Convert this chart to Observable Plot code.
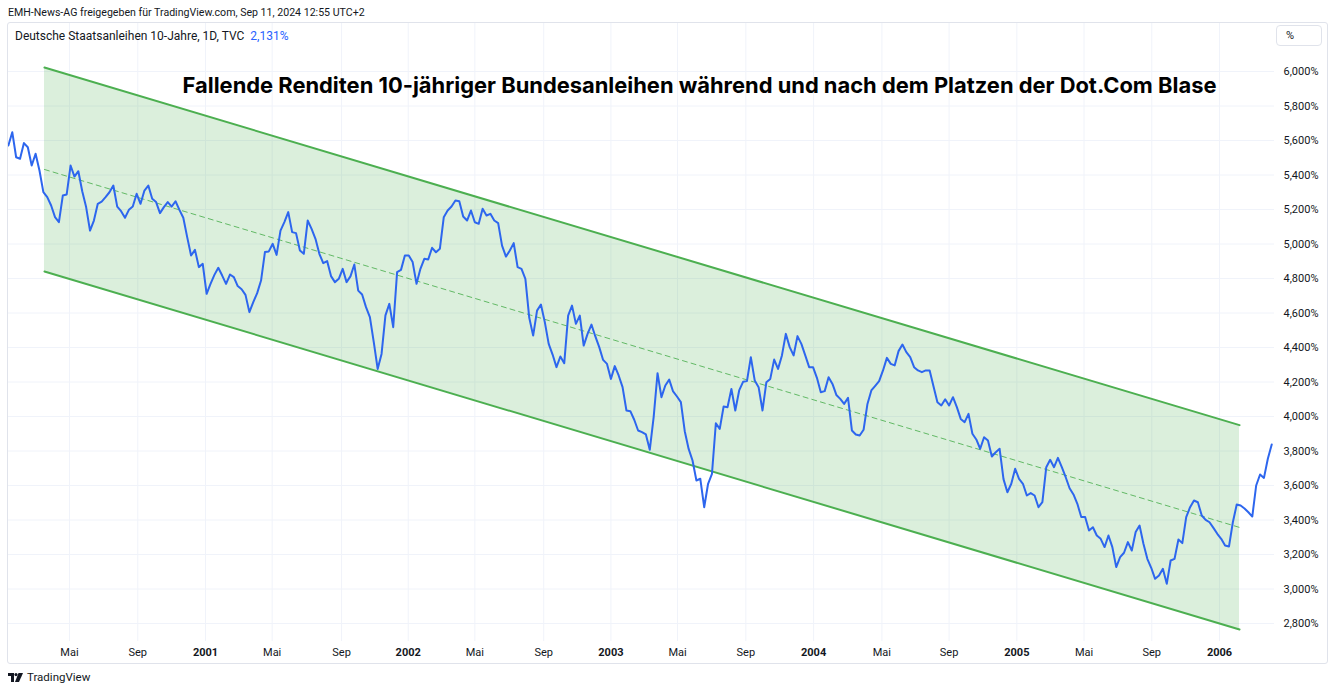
<!DOCTYPE html>
<html><head><meta charset="utf-8">
<script src="https://cdn.jsdelivr.net/npm/d3@7"></script>
<script src="https://cdn.jsdelivr.net/npm/@observablehq/plot@0.6"></script>
<style>
body{margin:0;background:#fff;font-family:Roboto,"Liberation Sans",sans-serif;color:#131722;}
#wrap{position:relative;width:1332px;height:692px;overflow:hidden;background:#fff}
#hdr{position:absolute;left:8px;top:6px;font-size:10.6px;white-space:nowrap;color:#131722}
#pane{position:absolute;left:0;top:22px;width:1332px;height:641px;}
#border{position:absolute;left:7px;top:22px;width:1321px;height:642px;border:1px solid #e0e3eb;box-sizing:border-box;pointer-events:none;border-radius:3px}
#legend{position:absolute;left:15px;top:29px;font-size:12px;white-space:nowrap;color:#131722}
#legend .v{color:#2962ff;margin-left:6px}
#title{position:absolute;left:0;width:1399px;top:72px;text-align:center;font:700 21.9px Inter,"Liberation Sans",sans-serif;color:#000;white-space:nowrap}
#pct{position:absolute;left:1276px;top:25px;width:46px;height:21px;border:1px solid #e0e3eb;box-sizing:border-box;border-radius:4px;font-size:11px;line-height:19px;padding-left:9px;background:#fff}
#foot{position:absolute;left:8px;top:670px;font-size:11.5px;white-space:nowrap;color:#131722;display:flex;align-items:center}
#foot svg{margin-right:4px}
</style></head>
<body>
<div id="wrap">
  <div id="hdr">EMH-News-AG freigegeben für TradingView.com, Sep 11, 2024 12:55 UTC+2</div>
  <div id="pane"></div>
  <div id="border"></div>
  <div id="legend">Deutsche Staatsanleihen 10-Jahre, 1D, TVC<span class="v">2,131%</span></div>
  <div id="title">Fallende Renditen 10-jähriger Bundesanleihen während und nach dem Platzen der Dot.Com Blase</div>
  <div id="pct">%</div>
  <div id="foot"><svg width="15" height="9" viewBox="0 0 15 9"><path d="M0 0h6v9H3V3H0z" fill="#131722"/><circle cx="8" cy="1.6" r="1.6" fill="#131722"/><path d="M10.5 0H15l-4 9H7z" fill="#131722"/></svg>TradingView</div>
</div>
<script>
// Weekly closes, first week starting at startDate
const startDate = "2000-01-12";
const yieldsA = [
5.571,5.648,5.503,5.494,5.585,5.561,5.455,5.523,5.426,5.301,
5.272,5.223,5.156,5.127,5.281,5.287,5.455,5.391,5.422,5.306,
5.214,5.078,5.136,5.233,5.246,5.272,5.300,5.339,5.217,5.190,
5.152,5.198,5.217,5.291,5.233,5.310,5.339,5.262,5.243,5.179,
5.214,5.243,5.217,5.248,5.198,5.152,5.040,4.933,4.966,4.866,
4.885,4.711,4.769,4.821,4.862,4.817,4.769,4.823,4.808,4.756,
4.738,4.705,4.605,4.663,4.715,4.788,4.953,4.957,5.001,4.937,
5.078,5.127,5.185,5.069,5.063,4.962,4.943,5.136,5.088,5.030,
4.943,4.889,4.901,4.814,4.779,4.798,4.856,4.779,4.812,4.881,
4.730,4.707,4.634,4.576,4.431,4.276,4.363,4.586,4.653,4.518,
4.837,4.850,4.933,4.933,4.895,4.769,4.856,4.914,4.910,4.978,
4.952,4.972,5.155,5.194];
const yieldsB = [
5.217,5.252,5.248,5.159,5.136,5.194,5.126,5.117,5.204,5.165,
5.175,5.136,5.121,4.991,4.927,4.962,5.005,4.866,4.856,4.798,
4.572,4.469,4.614,4.649,4.547,4.421,4.359,4.286,4.348,4.309,
4.585,4.643,4.537,4.585,4.411,4.479,4.533,4.464,4.402,4.328,
4.305,4.218,4.292,4.238,4.170,4.035,4.031,3.981,3.919,3.909,
3.896,3.807,3.996,4.251,4.112,4.180,4.214,4.145,4.116,4.083,
3.915,3.812,3.745,3.629,3.639,3.474,3.610,3.668,3.961,3.928,
4.058,4.054,4.160,4.035,4.151,4.201,4.205,4.344,4.209,4.170,
4.035,4.199,4.218,4.330,4.276,4.354,4.479,4.402,4.354,4.466,
4.421,4.354,4.286,4.286,4.224,4.141,4.147,4.228,4.189,4.125,
4.102,4.073,4.108];
const yieldsC = [
3.919,3.896,3.890,3.923,4.073,4.151,4.178,4.205,4.267,4.340,
4.305,4.296,4.379,4.417,4.373,4.344,4.286,4.267,4.257,4.267,
4.267,4.174,4.083,4.064,4.100,4.064,4.112,4.054,3.986,3.967,
4.015,3.900,3.867,3.813,3.880,3.861,3.768,3.793,3.813,3.637,
3.561,3.610,3.697,3.639,3.610,3.542,3.556,3.542,3.474,3.503,
3.706,3.749,3.706,3.760,3.706,3.648,3.584,3.548,3.494,3.417,
3.417,3.339,3.358,3.310,3.291,3.243,3.310,3.243,3.127,3.185,
3.210,3.272,3.223,3.330,3.368,3.262,3.175,3.123,3.059,3.078,
3.117,3.030,3.165,3.175,3.287,3.266,3.417,3.474,3.513,3.503,
3.426,3.401,3.387,3.354,3.320,3.291,3.252,3.246,3.387,3.490,
3.484,3.467,3.445,3.420,3.600,3.664,3.644,3.755,3.838];

// Parallel channel drawing
const channelDates = ["2000-03-17", "2006-02-06"];
const channelUpper = [6.023, 3.950];
const channelMid   = [5.432, 3.357];
const channelLower = [4.841, 2.765];

// Axes
const yTicks = [2.8,3.0,3.2,3.4,3.6,3.8,4.0,4.2,4.4,4.6,4.8,5.0,5.2,5.4,5.6,5.8,6.0];
const monthTicks = ["2000-05-01","2000-09-01","2001-05-01","2001-09-03","2002-05-01","2002-09-02",
  "2003-05-01","2003-09-01","2004-05-03","2004-09-01","2005-05-02","2005-09-01"];
const monthLabels = {4:"Mai", 8:"Sep"};
const yearTicks = ["2001-01-01","2002-01-01","2003-01-01","2004-01-01","2005-01-01","2006-01-01"];

const allYields = [...yieldsA, ...yieldsB, ...yieldsC];
const series = allYields.map((v, i) => ({date: d3.utcDay.offset(new Date(startDate), 7 * i), value: v}));
const chan = channelDates.map((d, i) => ({date: new Date(d), upper: channelUpper[i], mid: channelMid[i], lower: channelLower[i]}));
const mDates = monthTicks.map(d => new Date(d));
const yDates = yearTicks.map(d => new Date(d));

const green = "#4caf50";
const chart = Plot.plot({
  width: 1332, height: 641,
  marginLeft: 7, marginRight: 58, marginTop: 0, marginBottom: 22,
  x: {type: "utc", domain: [new Date("2000-01-10T10:00Z"), new Date("2006-04-10")]},
  y: {domain: [2.8, 6.0], range: [601, 49]},
  style: {fontFamily: "Roboto, 'Liberation Sans', sans-serif", fontSize: "11px", color: "#131722", background: "transparent", overflow: "visible"},
  marks: [
    Plot.gridY(yTicks, {stroke: "#f0f3fa", strokeOpacity: 1}),
    Plot.gridX([...mDates, ...yDates], {stroke: "#f0f3fa", strokeOpacity: 1}),
    Plot.areaY(chan, {x: "date", y1: "lower", y2: "upper", fill: green, fillOpacity: 0.2}),
    Plot.line(chan, {x: "date", y: "upper", stroke: green, strokeWidth: 2}),
    Plot.line(chan, {x: "date", y: "lower", stroke: green, strokeWidth: 2}),
    Plot.line(chan, {x: "date", y: "mid", stroke: green, strokeWidth: 1, strokeDasharray: "5,4", strokeOpacity: 0.85}),
    Plot.line(series, {x: "date", y: "value", stroke: "#2d66ee", strokeWidth: 2}),
    Plot.axisY(yTicks, {anchor: "right", tickSize: 0, tickPadding: 9, label: null,
      tickFormat: d => d.toFixed(3).replace(".", ",") + "%"}),
    Plot.axisX(mDates, {anchor: "bottom", tickSize: 0, tickPadding: 7, label: null,
      tickFormat: d => monthLabels[d.getUTCMonth()]}),
    Plot.axisX(yDates, {anchor: "bottom", tickSize: 0, tickPadding: 7, label: null, fontWeight: "bold",
      tickFormat: d => String(d.getUTCFullYear())})
  ]
});
document.getElementById("pane").appendChild(chart);
</script>
</body></html>
